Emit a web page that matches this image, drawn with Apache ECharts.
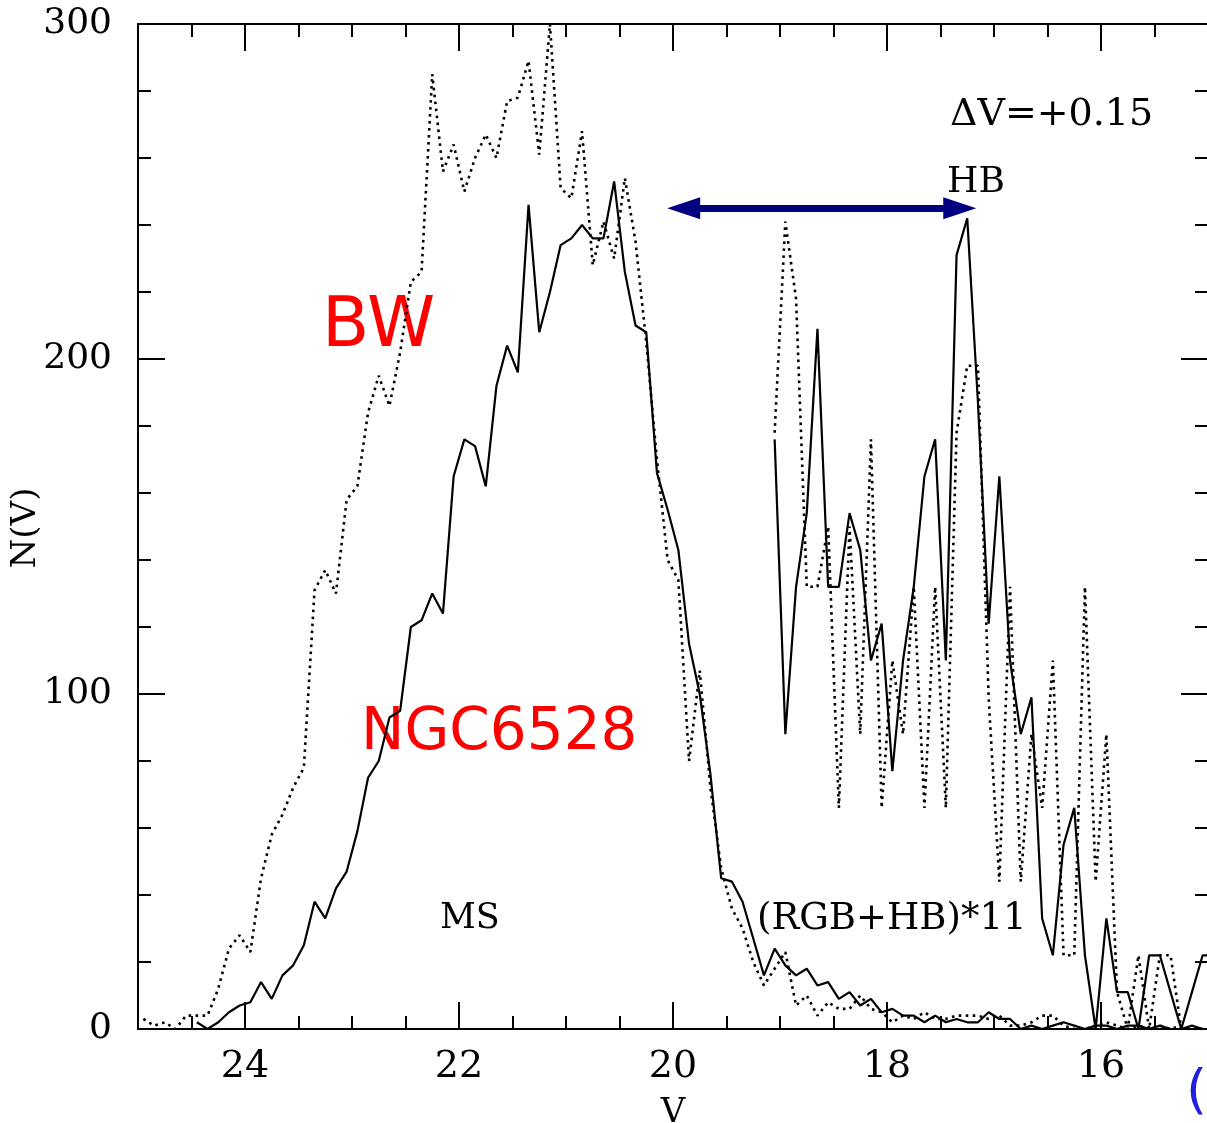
<!DOCTYPE html>
<html><head><meta charset="utf-8">
<script src="https://cdn.jsdelivr.net/npm/echarts@6/dist/echarts.min.js"></script>
<style>html,body{margin:0;padding:0;background:#fff}#c{width:1207px;height:1123px}</style>
</head><body><div id="c"></div>
<script>
// bin centres (V magnitude) for the main-sequence luminosity functions
const vMS = [24.95,24.85,24.75,24.65,24.55,24.45,24.35,24.25,24.15,24.05,
  23.95,23.85,23.75,23.65,23.55,23.45,23.35,23.25,23.15,23.05,
  22.95,22.85,22.75,22.65,22.55,22.45,22.35,22.25,22.15,22.05,
  21.95,21.85,21.75,21.65,21.55,21.45,21.35,21.25,21.15,21.05,
  20.95,20.85,20.75,20.65,20.55,20.45,20.35,20.25,20.15,20.05,
  19.95,19.85,19.75,19.65,19.55,19.45,19.35,19.25,19.15,19.05,
  18.95,18.85,18.75,18.65,18.55,18.45,18.35,18.25,18.15,18.05,
  17.95,17.85,17.75,17.65,17.55,17.45,17.35,17.25,17.15,17.05,
  16.95,16.85,16.75,16.65,16.55,16.45,16.35,16.25,16.15,16.05,
  15.95,15.85,15.75,15.65,15.55,15.45,15.35,15.25,15.15,15.05];
// NGC6528 (solid)
const msNGC6528 = [null,null,null,null,null,2,0,2,5,7,
  8,14,9,16,19,25,38,33,42,47,
  59,75,80,93,95,120,122,130,124,165,
  176,174,162,192,204,196,246,208,220,234,
  236,240,236,236,253,226,210,208,166,155,
  143,115,100,76,45,44,38,27,16,24,
  19,16,18,13,14,9,11,7,9,5,
  6,4,4,2,4,2,3,2,2,5,
  3,3,0,1,0,1,2,1,0,1,
  1,0,1,1,0,1,0,0,1,0];
// Baade's Window, shifted by dV=+0.15 (dotted)
const msBW = [3,1,2,0,4,4,4,12,24,28,
  23,45,58,64,72,78,131,137,130,158,
  162,184,195,186,202,223,226,285,256,264,
  250,260,267,260,277,278,289,261,300,251,
  248,268,228,241,230,254,235,205,170,140,
  134,80,107,72,48,36,30,20,13,18,
  23,7,10,4,8,6,6,10,6,5,
  2,4,3,5,3,3,4,4,4,3,
  4,1,1,2,4,4,1,0,0,1,
  2,1,0,1,0,1,0,1,0,0];
// bin centres for the (RGB+HB)*11 functions
const vGiant = [19.05,18.95,18.85,18.75,18.65,18.55,18.45,18.35,18.25,18.15,
  18.05,17.95,17.85,17.75,17.65,17.55,17.45,17.35,17.25,17.15,
  17.05,16.95,16.85,16.75,16.65,16.55,16.45,16.35,16.25,16.15,
  16.05,15.95,15.85,15.75,15.65,15.55,15.45,15.35,15.25,15.15,
  15.05,14.95];
const giantNGC6528 = [176,88,132,154,209,132,132,154,143,110,
  121,77,110,132,165,176,110,231,242,187,
  121,165,110,88,99,33,22,55,66,22,
  0,33,11,11,0,22,22,11,0,11,
  22,22];
const giantBW = [178,241,218,132,132,150,66,150,88,176,
  66,110,88,132,66,132,66,178,198,198,
  99,44,132,44,88,66,110,22,22,132,
  44,88,11,0,22,0,22,22,0,0,
  0,null];
// tick labels
const xMajorTicks = [16,18,20,22,24];
const yMajorTicks = [0,100,200,300];
// HB magnitude range arrow (V from, V to, N level)
const hbArrow = [19.9, 17.32, 245];

const pairs = (xs, ys) => xs.map((x,i)=>[x, ys[i]]).filter(p => p[1] !== null);

const SERIF = '"DejaVu Serif", serif';
const SANS = '"DejaVu Sans", sans-serif';
const black = '#000';
const tickStyle = {color: black, width: 2};

function xAxisPair(pos, withLabels) {
  const base = {type:'value', min:15, max:25, inverse:true, gridIndex:0, position:pos,
    splitLine:{show:false}};
  const minor = Object.assign({}, base, {
    interval:0.5,
    axisLine:{show:true, lineStyle:{color:black, width:2}},
    axisTick:{show:true, inside:true, length:13, lineStyle:tickStyle},
    axisLabel:{show:false}
  });
  const major = Object.assign({}, base, {
    axisLine:{show:false},
    axisTick:{show:true, inside:true, length:27, customValues:xMajorTicks, lineStyle:tickStyle},
    axisLabel: withLabels ? {show:true, customValues:xMajorTicks, color:black,
      fontFamily:SERIF, fontSize:38, margin:19} : {show:false}
  });
  if (withLabels) {
    Object.assign(major, {name:'V', nameLocation:'middle', nameGap:67,
      nameTextStyle:{fontFamily:SERIF, fontSize:34, color:black}});
  }
  return [minor, major];
}
function yAxisDef(pos, withLabels) {
  return {type:'value', min:0, max:300, interval:100, gridIndex:0, position:pos,
    splitLine:{show:false},
    axisLine:{show:true, lineStyle:{color:black, width:2}},
    axisTick:{show:true, inside:true, length:27, lineStyle:tickStyle},
    minorTick:{show:true, splitNumber:5, length:13, lineStyle:tickStyle},
    axisLabel: withLabels ? {show:true, color:black, fontFamily:SERIF, fontSize:36, margin:26,
      customValues:yMajorTicks} : {show:false}
  };
}

const chart = echarts.init(document.getElementById('c'));
const lineBase = {type:'line', xAxisIndex:0, yAxisIndex:0, showSymbol:false, symbol:'none',
  animation:false, silent:true, z:3};
const solidStyle = {color:black, width:2.2, type:'solid'};
const dotStyle = {color:black, width:2.6, type:[2.6,4.4]};
const option = {
  animation:false,
  backgroundColor:'#fff',
  grid:{left:138, top:24, width:1070, height:1005, show:false, containLabel:false, outerBoundsMode:'none'},
  xAxis:[...xAxisPair('bottom', true), ...xAxisPair('top', false)],
  yAxis:[yAxisDef('left', true), yAxisDef('right', false)],
  series:[
    Object.assign({}, lineBase, {name:'NGC6528 MS', data:pairs(vMS, msNGC6528), lineStyle:solidStyle}),
    Object.assign({}, lineBase, {name:'BW MS', data:pairs(vMS, msBW), lineStyle:dotStyle}),
    Object.assign({}, lineBase, {name:'NGC6528 (RGB+HB)*11', data:pairs(vGiant, giantNGC6528), lineStyle:solidStyle}),
    Object.assign({}, lineBase, {name:'BW (RGB+HB)*11', data:pairs(vGiant, giantBW), lineStyle:dotStyle,
      markLine:{silent:true, symbol:['triangle','triangle'], symbolSize:[22,33],
        label:{show:false}, lineStyle:{color:'#000080', width:7, type:'solid'},
        emphasis:{disabled:true},
        data:[[{coord:[hbArrow[0], hbArrow[2]]},{coord:[hbArrow[1], hbArrow[2]]}]]}})
  ],
  graphic:[
    {type:'text', x:26, y:528, rotation:Math.PI/2, z:1, style:{text:'N(V)', font:'34px '+SERIF, fill:black, align:'center', verticalAlign:'middle'}},
    {type:'text', x:950, y:115, z:1, style:{text:'\u0394V=+0.15', font:'38px '+SERIF, fill:black, align:'left', verticalAlign:'middle'}},
    {type:'text', x:947, y:183, z:1, style:{text:'HB', font:'36px '+SERIF, fill:black, align:'left', verticalAlign:'middle'}},
    {type:'text', x:440, y:919, z:1, style:{text:'MS', font:'35px '+SERIF, fill:black, align:'left', verticalAlign:'middle'}},
    {type:'text', x:757, y:919, z:1, style:{text:'(RGB+HB)*11', font:'37px '+SERIF, fill:black, align:'left', verticalAlign:'middle'}},
    {type:'text', x:322, y:328, z:1, style:{text:'BW', font:'69px '+SANS, fill:'#ff0000', align:'left', verticalAlign:'middle'}},
    {type:'text', x:361, y:734, z:1, style:{text:'NGC6528', font:'58px '+SANS, fill:'#ff0000', align:'left', verticalAlign:'middle'}},
    {type:'text', x:1186, y:1094, z:1, style:{text:'(c)', font:'54px '+SANS, fill:'#2020e0', align:'left', verticalAlign:'middle'}}
  ]
};
chart.setOption(option);
</script>
</body></html>
